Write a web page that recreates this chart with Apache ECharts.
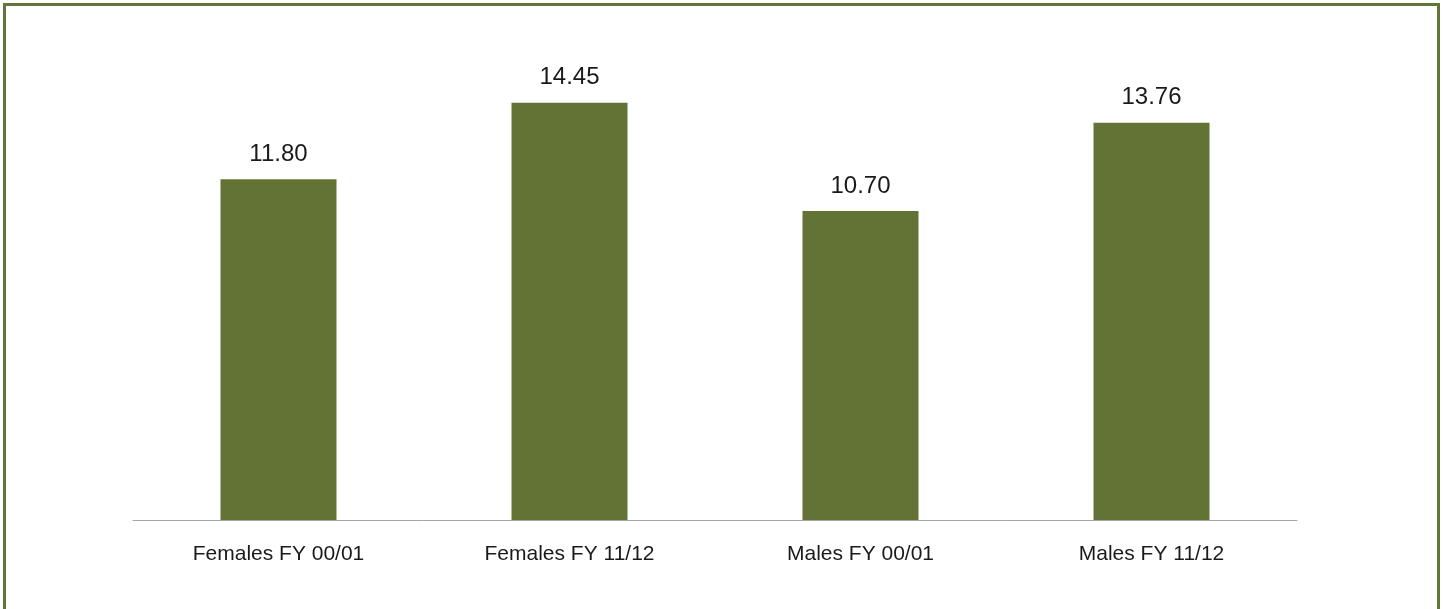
<!DOCTYPE html>
<html>
<head>
<meta charset="utf-8">
<title>Females and Males FY 00/01 vs FY 11/12</title>
<script src="https://cdn.jsdelivr.net/npm/echarts@6/dist/echarts.min.js"></script>
<style>
  html, body { margin: 0; padding: 0; background: #ffffff; overflow: hidden; }
  #frame {
    position: absolute; left: 3px; top: 3px;
    width: 1431px; height: 640px;
    border: 3px solid #637538;
  }
  #chart { position: absolute; left: 0; top: 0; width: 1443px; height: 609px; }
</style>
</head>
<body>
<div id="frame"></div>
<div id="chart"></div>
<script>
// Categories and values shown on the bars
const categories = ['Females FY 00/01', 'Females FY 11/12', 'Males FY 00/01', 'Males FY 11/12'];
const values = [11.80, 14.45, 10.70, 13.76];

const chart = echarts.init(document.getElementById('chart'), null, { renderer: 'canvas' });

chart.setOption({
  animation: false,
  backgroundColor: 'transparent',
  grid: { left: 133, right: 146, top: 58, bottom: 89, containLabel: false },
  xAxis: {
    type: 'category',
    data: categories,
    axisLine: { show: true, lineStyle: { color: '#a6a6a6', width: 1 } },
    axisTick: { show: false },
    axisLabel: {
      margin: 24,
      color: '#1a1a1a',
      fontFamily: 'Liberation Sans, Arial, sans-serif',
      fontSize: 21
    }
  },
  yAxis: {
    type: 'value',
    min: 0,
    max: 16,
    show: false,
    splitLine: { show: false }
  },
  series: [{
    type: 'bar',
    data: values,
    barWidth: 116,
    itemStyle: { color: '#627335' },
    label: {
      show: true,
      position: 'top',
      distance: 13,
      color: '#1a1a1a',
      fontFamily: 'Liberation Sans, Arial, sans-serif',
      fontSize: 24,
      formatter: p => p.value.toFixed(2)
    }
  }]
});
</script>
</body>
</html>
